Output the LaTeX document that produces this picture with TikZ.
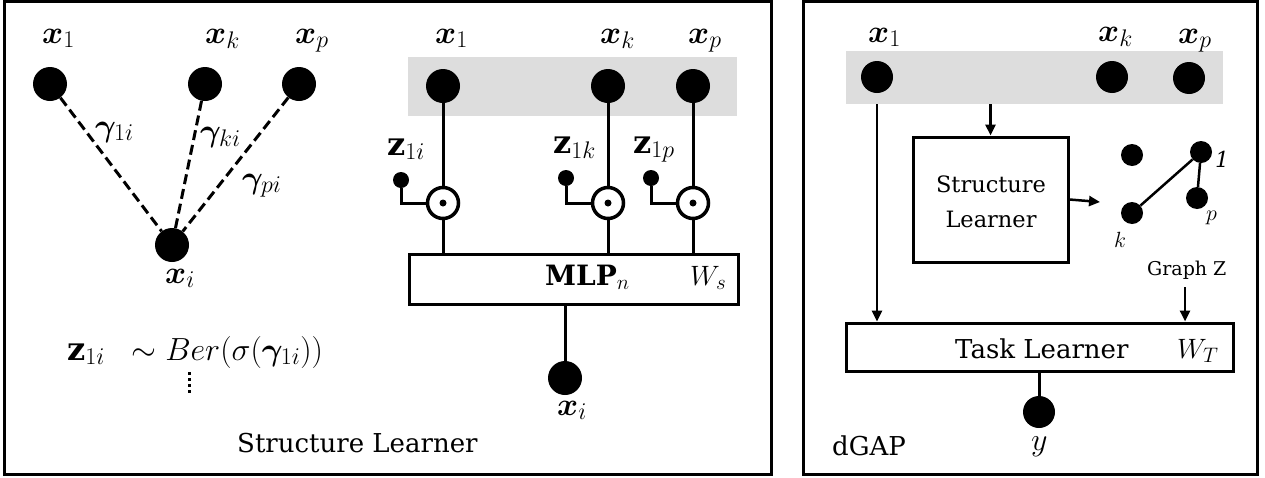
\RequirePackage{fix-cm}
\documentclass[tikz,border=0pt]{standalone}
\usepackage{amsmath,bm}
\usepackage{fontspec}
\setmainfont{DejaVu Serif}
\usetikzlibrary{arrows.meta}
\definecolor{band}{HTML}{DDDDDD}
\DeclareMathSizes{32}{32}{24}{18}
\DeclareMathSizes{28}{28}{21}{16}
\newcommand{\mathsz}{\fontsize{32}{36}\selectfont}
\newcommand{\wsz}{\fontsize{28}{32}\selectfont}
\newcommand{\txtsz}{\fontsize{26}{30}\selectfont}
\newcommand{\boxsz}{\fontsize{22.5}{35}\selectfont}
\newcommand{\smsz}{\fontsize{19}{22}\selectfont}
\newcommand{\gsz}{\fontsize{22}{26}\selectfont}
\tikzset{
  bd/.style={line width=3pt},
  bignode/.style={circle,fill=black,inner sep=0pt,minimum size=34pt},
  rnode/.style={circle,fill=black,inner sep=0pt,minimum size=32pt},
  smallnode/.style={circle,fill=black,inner sep=0pt,minimum size=22pt},
  zdot/.style={circle,fill=black,inner sep=0pt,minimum size=16pt},
  mult/.style={circle,draw,line width=3.5pt,fill=white,inner sep=0pt,minimum size=31pt},
  panel/.style={draw,line width=3pt,inner sep=0pt},
  boxnode/.style={draw,line width=3pt,fill=white,inner sep=0pt},
  bandnode/.style={fill=band,inner sep=0pt},
  lbl/.style={inner sep=0pt,anchor=base west,font=\mathsz},
  wlbl/.style={inner sep=0pt,anchor=base west,font=\wsz},
  tlbl/.style={inner sep=0pt,anchor=base west,font=\txtsz},
  slbl/.style={inner sep=0pt,anchor=base west,font=\smsz},
  glbl/.style={inner sep=0pt,anchor=base west,font=\gsz},
  dashln/.style={line width=3pt,dash pattern=on 10pt off 5pt},
  arr/.style={line width=2.5pt,-{Triangle[length=11pt,width=10pt]}},
}
\begin{document}
\begin{tikzpicture}[x=1pt,y=-1pt]
\useasboundingbox (0,0) rectangle (1265,477);
% panels
\node[panel,minimum width=767pt,minimum height=473pt] (leftpanel) at (387.5,237.5) {};
\node[panel,minimum width=454pt,minimum height=473pt] (rightpanel) at (1030,237.5) {};

% ---------- left: graph view ----------
\node[bignode] (a1) at (50,84) {};
\node[bignode] (ak) at (205,84) {};
\node[bignode] (ap) at (299,84) {};
\node[bignode] (ai) at (172,245) {};
\draw[dashln] (a1) -- (ai);
\draw[dashln] (ak) -- (ai);
\draw[dashln] (ap) -- (ai);
\node[lbl] (la1) at (42,43) {$\bm{x}_1$};
\node[lbl] (lak) at (205,43) {$\bm{x}_k$};
\node[lbl] (lap) at (295,43) {$\bm{x}_p$};
\node[lbl] (lai) at (165,283) {$\bm{x}_i$};
\node[lbl] (g1) at (95,136) {$\bm{\gamma}_{1i}$};
\node[lbl] (gk) at (200,141) {$\bm{\gamma}_{ki}$};
\node[lbl] (gp) at (242,188) {$\bm{\gamma}_{pi}$};
\node[lbl] (formula) at (67,360) {$\mathbf{z}_{1i}\;\;\sim Ber(\sigma(\bm{\gamma}_{1i}))$};
\coordinate (vd1) at (189,372);
\coordinate (vd2) at (189,396);
\draw[line width=3pt,dash pattern=on 3pt off 3pt] (vd1) -- (vd2);
\node[tlbl] (sltitle) at (237,452) {Structure Learner};

% ---------- middle: MLP view ----------
\node[bandnode,minimum width=329pt,minimum height=59pt] (band1) at (572.5,86.5) {};
\node[bignode] (b1) at (443,86) {};
\node[bignode] (bk) at (608,86) {};
\node[bignode] (bp) at (693,86) {};
\node[lbl] (lb1) at (435,43) {$\bm{x}_1$};
\node[lbl] (lbk) at (600,43) {$\bm{x}_k$};
\node[lbl] (lbp) at (688,43) {$\bm{x}_p$};
\node[boxnode,minimum width=329pt,minimum height=50pt] (mlp) at (573.5,279) {};
\node[wlbl] (mlptxt) at (545,285) {$\mathbf{MLP}_n$};
\node[wlbl] (ws) at (690,285) {$W_s$};
\node[mult] (o1) at (443,203) {};
\node[mult] (ok) at (608,203) {};
\node[mult] (op) at (693,203) {};
\foreach \o in {o1,ok,op}{\fill (\o) circle (3.5pt);}
\draw[bd] (b1) -- (o1); \draw[bd] (o1) -- (o1 |- mlp.north);
\draw[bd] (bk) -- (ok); \draw[bd] (ok) -- (ok |- mlp.north);
\draw[bd] (bp) -- (op); \draw[bd] (op) -- (op |- mlp.north);
\node[zdot] (z1) at (401,180) {};
\node[zdot] (zk) at (566,178) {};
\node[zdot] (zp) at (651,178) {};
\draw[bd] (z1) |- (o1.west);
\draw[bd] (zk) |- (ok.west);
\draw[bd] (zp) |- (op.west);
\node[lbl] (lz1) at (387,155) {$\mathbf{z}_{1i}$};
\node[lbl] (lzk) at (553,153) {$\mathbf{z}_{1k}$};
\node[lbl] (lzp) at (633,153) {$\mathbf{z}_{1p}$};
\node[bignode] (bi) at (565,378) {};
\draw[bd] (mlp.south -| bi) -- (bi);
\node[lbl] (lbi) at (557,415) {$\bm{x}_i$};

% ---------- right: dGAP ----------
\node[bandnode,minimum width=377pt,minimum height=53pt] (band2) at (1034.5,77.5) {};
\node[rnode] (c1) at (877,77) {};
\node[rnode] (ck) at (1112,77) {};
\node[rnode] (cp) at (1189,78) {};
\node[lbl] (lc1) at (868,42) {$\bm{x}_1$};
\node[lbl] (lck) at (1098,41) {$\bm{x}_k$};
\node[lbl] (lcp) at (1178,43) {$\bm{x}_p$};
\node[boxnode,minimum width=155pt,minimum height=125pt] (sl) at (990.5,199.5) {};
\node[inner sep=0pt,font=\boxsz,align=center] (sltxt) at (991,202) {Structure\\Learner};
\node[boxnode,minimum width=387pt,minimum height=48pt] (tl) at (1039.5,347) {};
\node[tlbl] (tltxt) at (955,358) {Task Learner};
\node[wlbl] (wt) at (1177,358) {$W_T$};
\draw[arr] (c1 |- band2.south) -- (c1 |- tl.north);
\draw[arr] (sl.north |- band2.south) -- (sl.north);
\coordinate (gin) at (1100,202);
\draw[arr] (sl.east) -- (gin);
\node[smallnode] (g0) at (1132,155) {};
\node[smallnode] (gn1) at (1201,152) {};
\node[smallnode] (gnp) at (1197,198) {};
\node[smallnode] (gnk) at (1132,213) {};
\draw[bd,line width=2.5pt] (gn1) -- (gnk);
\draw[bd,line width=2.5pt] (gn1) -- (gnp);
\node[glbl] (l1) at (1215,167) {$\mathit{1}$};
\node[glbl] (lp) at (1206,220) {$p$};
\node[glbl] (lk) at (1114,247) {$k$};
\node[slbl] (graphz) at (1147,275) {Graph Z};
\coordinate (gz) at (1185,287);
\draw[arr] (gz) -- (gz |- tl.north);
\node[rnode] (yn) at (1039,412) {};
\draw[bd] (tl.south -| yn) -- (yn);
\node[lbl] (ly) at (1031,450) {$y$};
\node[tlbl] (dgap) at (832,455) {dGAP};
\end{tikzpicture}
\end{document}
